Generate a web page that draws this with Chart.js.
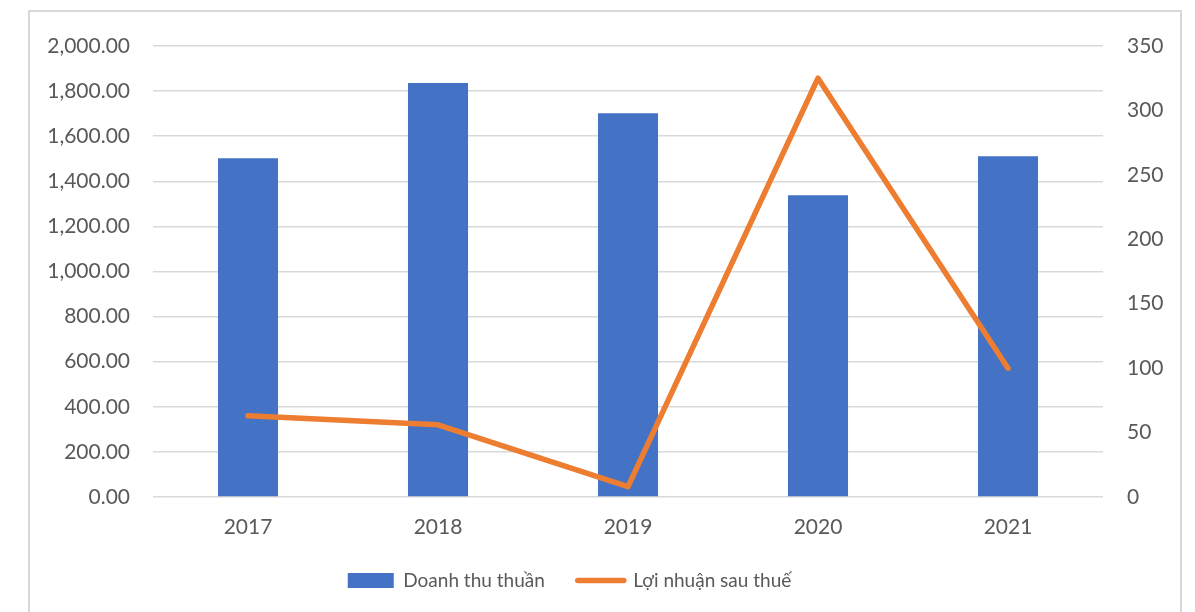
<!DOCTYPE html>
<html>
<head>
<meta charset="utf-8">
<script src="https://cdn.jsdelivr.net/npm/chart.js@4"></script>
<style>
  html, body { margin: 0; padding: 0; background: #fff; }
  #wrap { position: relative; width: 1195px; height: 612px; overflow: hidden; }
  #frame { position: absolute; left: 28px; top: 10px; width: 1150px; height: 700px; border: 2px solid #D9D9D9; pointer-events: none; }
</style>
</head>
<body>
<div id="wrap">
  <canvas id="chart1" width="1195" height="612"></canvas>
  <div id="frame"></div>
</div>
<script>
//Data
const years = ['2017', '2018', '2019', '2020', '2021'];
const doanhThu = [1502, 1836, 1702, 1338, 1511];
const loiNhuan = [63, 56, 8, 325, 100];

const ctx = document.querySelector('#chart1');

//Legend sits a bit left of the centre, like in the original
const legendShift = {
    id: 'legendShift',
    afterLayout: function(chart) {
        chart.legend.left -= 28;
        chart.legend.right -= 28;
    }
};

const myChart = new Chart(ctx, {
    type: 'bar',
    data: {
        labels: years,
        datasets: [{
            label: 'Doanh thu thuần',
            data: doanhThu,
            backgroundColor: '#4472C4',
            borderWidth: 0,
            categoryPercentage: 1,
            barPercentage: 0.316,
            yAxisID: 'y',
            order: 1
        }, {
            type: 'line',
            label: 'Lợi nhuận sau thuế',
            data: loiNhuan,
            borderColor: '#ED7D31',
            backgroundColor: '#ED7D31',
            borderWidth: 5.5,
            borderCapStyle: 'round',
            borderJoinStyle: 'round',
            pointRadius: 0,
            tension: 0,
            yAxisID: 'y1',
            order: 0
        }]
    },
    options: {
        responsive: false,
        animation: false,
        layout: {
            padding: { top: 46, bottom: 12, left: 0, right: 0 }
        },
        scales: {
            x: {
                grid: { display: false, drawTicks: false },
                border: { display: false },
                ticks: { color: '#595959', font: { family: 'Lato', size: 21 }, padding: 18 },
                afterFit: function(scale) { scale.height = 41; }
            },
            y: {
                position: 'left',
                min: 0,
                max: 2000,
                ticks: {
                    stepSize: 200,
                    color: '#595959',
                    font: { family: 'Lato', size: 21 },
                    padding: 23,
                    callback: function(v) {
                        return v.toLocaleString('en-US', { minimumFractionDigits: 2, maximumFractionDigits: 2 });
                    }
                },
                grid: { color: '#D9D9D9', lineWidth: 1.5, drawTicks: false },
                border: { display: false },
                afterFit: function(scale) { scale.width = 153; }
            },
            y1: {
                position: 'right',
                min: 0,
                max: 350,
                ticks: { stepSize: 50, color: '#595959', font: { family: 'Lato', size: 21 }, padding: 24 },
                grid: { display: false, drawTicks: false },
                border: { display: false },
                afterFit: function(scale) { scale.width = 92; }
            }
        },
        plugins: {
            legend: {
                position: 'bottom',
                labels: {
                    color: '#595959',
                    font: { family: 'Lato', size: 19 },
                    usePointStyle: true,
                    pointStyleWidth: 46,
                    boxHeight: 15,
                    padding: 33,
                    sort: function(a, b) { return a.datasetIndex - b.datasetIndex; },
                    generateLabels: function(chart) {
                        const items = Chart.defaults.plugins.legend.labels.generateLabels(chart);
                        items.forEach(function(item) {
                            if (item.datasetIndex === 0) {
                                item.pointStyle = 'rect';
                                item.lineWidth = 0;
                                item.fillStyle = '#4472C4';
                            } else {
                                item.pointStyle = 'line';
                                item.lineWidth = 5.5;
                                item.strokeStyle = '#ED7D31';
                                item.lineCap = 'round';
                            }
                        });
                        return items;
                    }
                }
            },
            tooltip: { enabled: false }
        }
    },
    plugins: [legendShift]
});
</script>
</body>
</html>
